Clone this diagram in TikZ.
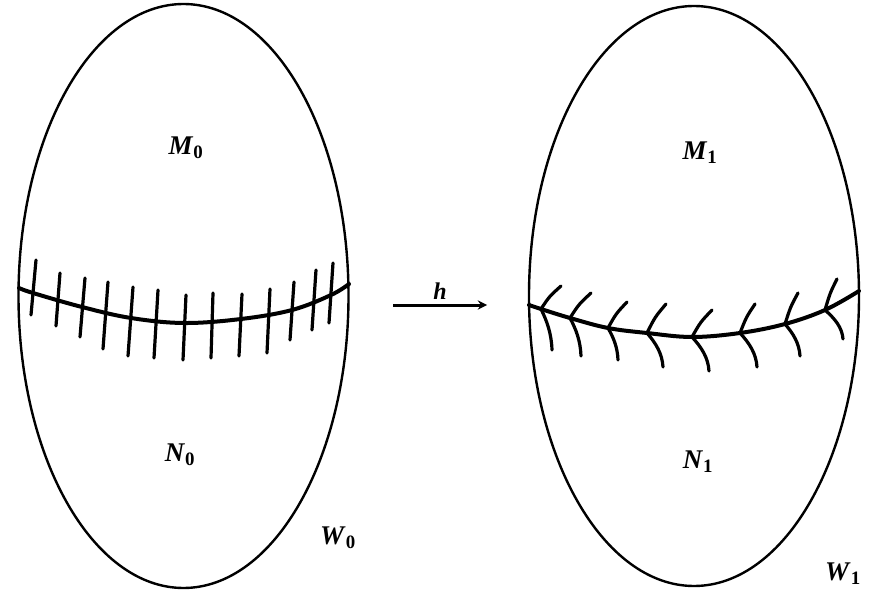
\documentclass[tikz,border=0pt]{standalone}
\usepackage{fontspec}
\setmainfont{Liberation Serif}
\usepackage{tikz}
\usetikzlibrary{arrows,calc,shapes.geometric}

\begin{document}
\begin{tikzpicture}[>=stealth, x=1pt, y=-1pt,
		rim/.style={draw, ellipse, line width=2.4pt, inner sep=0pt},
		seam/.style={line width=4pt, line cap=round},
		hair/.style={line width=3.2pt, line cap=round},
		lbl/.style={font=\fontsize{27}{31}\selectfont}]
			\newcommand{\Lbl}[2]{\textbf{\textit{#1}}\textsubscript{\textbf{#2}}}

			\useasboundingbox (0,0) rectangle (871,594);

			\node (W0body) [rim, minimum width=330pt, minimum height=584pt] at (183.5,296) {};
			\node (W1body) [rim, minimum width=330pt, minimum height=580pt] at (694,296) {};

			\node (M0) [lbl] at (186,148) {\Lbl{M}{0}};
			\node (N0) [lbl] at (180,455) {\Lbl{N}{0}};
			\node (W0) [lbl] at (338,538) {\Lbl{W}{0}};
			\node (M1) [lbl] at (700,153) {\Lbl{M}{1}};
			\node (N1) [lbl] at (698,462) {\Lbl{N}{1}};
			\node (W1) [lbl] at (843,574) {\Lbl{W}{1}};

			\draw[seam] plot[smooth, tension=0.6] coordinates {(19,288) (33,293) (82,307) (131,318) (184,323) (241,319) (292,310) (331,295) (349,284)};
			\foreach \xa/\ya/\xb/\yb in {36/260/31/315, 60/273/56/326, 85/278/80/337, 108/282/103/349, 133/287/128/356, 158/290/154/358, 186/295/183/360, 213/293/211/358, 242/294/239/356, 270/289/267/353, 294/282/290/340, 316/270/312/330, 333/263/329/323}
				\draw[hair] (\xa,\ya) -- (\xb,\yb);

			\draw[seam] plot[smooth, tension=0.6] coordinates {(529,305) (541,309) (570,318) (608,328) (647,333) (692,337) (740,333) (785,324) (825,310) (859,291)};
			\foreach \x/\y/\ux/\uy/\lx/\ly in {541/309/20/-23/11/41, 570/318/21/-25/11/38, 608/328/19/-26/10/32, 647/333/19/-29/16/34, 692/337/20/-27/17/34, 740/333/15/-29/17/34, 785/324/13/-31/15/32, 825/310/12/-31/18/29}
				\draw[hair] ($(\x,\y)+(\ux,\uy)$) .. controls ($(\x,\y)+(0.42*\ux,0.55*\uy)$) .. (\x,\y) .. controls ($(\x,\y)+(0.55*\lx,0.3*\ly)$) and ($(\x,\y)+(0.95*\lx,0.6*\ly)$) .. ($(\x,\y)+(\lx,\ly)$);

			\coordinate (hs) at (393,305);
			\coordinate (he) at (487,305);
			\draw[->, line width=3pt] (hs) -- node[above=1pt, font=\fontsize{24}{28}\selectfont] (hlbl) {\textbf{\textit{h}}} (he);
		\end{tikzpicture}
\end{document}
